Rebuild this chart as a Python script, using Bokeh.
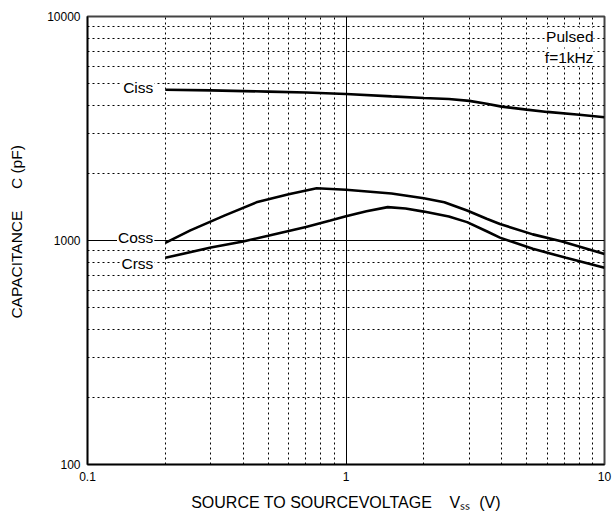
from bokeh.plotting import figure
from bokeh.models import Range1d, FixedTicker, NumeralTickFormatter, Label
from bokeh.embed import file_html
from bokeh.resources import INLINE

# ---- data ----
ciss_v = [0.2, 0.3, 0.5, 0.7, 1.0, 1.5, 2.0, 2.5, 3.0, 3.5, 4.0, 5.0, 6.0, 8.0, 10.0]
ciss_c = [4710, 4680, 4620, 4580, 4510, 4400, 4330, 4280, 4200, 4080, 3960, 3840, 3750, 3640, 3550]

coss_v = [0.2, 0.25, 0.34, 0.45, 0.6, 0.77, 1.0, 1.5, 2.0, 2.4, 2.94, 3.5, 3.94, 5.28, 6.8, 10.0]
coss_c = [975, 1110, 1295, 1480, 1610, 1711, 1685, 1620, 1545, 1483, 1361, 1250, 1185, 1065, 993, 870]

crss_v = [0.2, 0.3, 0.4, 0.5, 0.7, 0.87, 1.0, 1.2, 1.45, 1.7, 2.0, 2.5, 2.94, 3.5, 3.94, 5.28, 7.1, 10.0]
crss_c = [837, 930, 990, 1050, 1150, 1228, 1283, 1350, 1409, 1390, 1346, 1280, 1208, 1100, 1030, 918, 837, 755]

x_ticks = [0.1, 1, 10]
y_ticks = [100, 1000, 10000]
curve_labels = ["Ciss", "Coss", "Crss"]
note_lines = ["Pulsed", "f=1kHz"]
x_title = "SOURCE TO SOURCEVOLTAGE" + "\u00a0" * 4 + "V\u209b\u209b" + "\u00a0" * 2 + "(V)"
y_title = "\u00a0" * 4 + "CAPACITANCE" + "\u00a0" * 5 + "C (pF)"

FONT = "Liberation Sans"

p = figure(width=612, height=522, x_axis_type="log", y_axis_type="log",
           x_range=Range1d(0.1, 10), y_range=Range1d(100, 10000),
           output_backend="svg", toolbar_location=None,
           min_border_left=87, min_border_right=8, min_border_top=16, min_border_bottom=58)

x_minor = [m * 10.0 ** e for e in (-1, 0) for m in range(2, 10)]
y_minor = [m * 10.0 ** e for e in (2, 3) for m in range(2, 10)]
p.xaxis.ticker = FixedTicker(ticks=x_ticks, minor_ticks=x_minor)
p.yaxis.ticker = FixedTicker(ticks=y_ticks, minor_ticks=y_minor)
p.xaxis.formatter = NumeralTickFormatter(format="0.[0]")
p.yaxis.formatter = NumeralTickFormatter(format="0")

for ax in (p.xaxis[0], p.yaxis[0]):
    ax.major_tick_out = 0
    ax.major_tick_in = 0
    ax.minor_tick_out = 0
    ax.minor_tick_in = 0
    ax.axis_line_color = "black"
    ax.axis_line_width = 1.5
    ax.major_label_text_font = FONT
    ax.major_label_text_font_size = "12px"
    ax.major_label_text_color = "black"
    ax.major_label_standoff = 7
    ax.axis_label_text_font = FONT
    ax.axis_label_text_font_style = "normal"
    ax.axis_label_text_color = "black"

p.yaxis.axis_label = y_title
p.yaxis.axis_label_text_font_size = "15.5px"
p.yaxis.axis_label_standoff = 19

p.xaxis.axis_label = x_title
p.xaxis.axis_label_text_font_size = "16px"
p.xaxis.axis_label_standoff = 10

for g in (p.xgrid[0], p.ygrid[0]):
    g.grid_line_color = "black"
    g.grid_line_width = 1
    g.minor_grid_line_color = "black"
    g.minor_grid_line_width = 1
    g.minor_grid_line_dash = "2 3"

p.outline_line_color = "#444444"
p.outline_line_width = 2
p.background_fill_color = "white"
p.border_fill_color = "white"

for v, c in ((ciss_v, ciss_c), (coss_v, coss_c), (crss_v, crss_c)):
    p.line(v, c, line_color="black", line_width=2.6)

# curve labels, anchored at each curve's first point
offsets = [2, 5, -6]
for name, v, c, dy in zip(curve_labels, (ciss_v, coss_v, crss_v), (ciss_c, coss_c, crss_c), offsets):
    p.add_layout(Label(x=v[0], y=c[0], x_offset=-11, y_offset=dy, text=name,
                       text_align="right", text_baseline="middle",
                       text_font=FONT, text_font_size="15.5px", text_color="black",
                       background_fill_color="white", padding=1))

# note in the upper right
for i, t in enumerate(note_lines):
    p.add_layout(Label(x=506, y=428 - 20.6 * i, x_units="screen", y_units="screen",
                       text=t, text_align="right", text_baseline="alphabetic",
                       text_font=FONT, text_font_size="15.5px", text_color="black",
                       background_fill_color="white", padding=0))

open("out.html", "w").write(file_html(p, INLINE))
